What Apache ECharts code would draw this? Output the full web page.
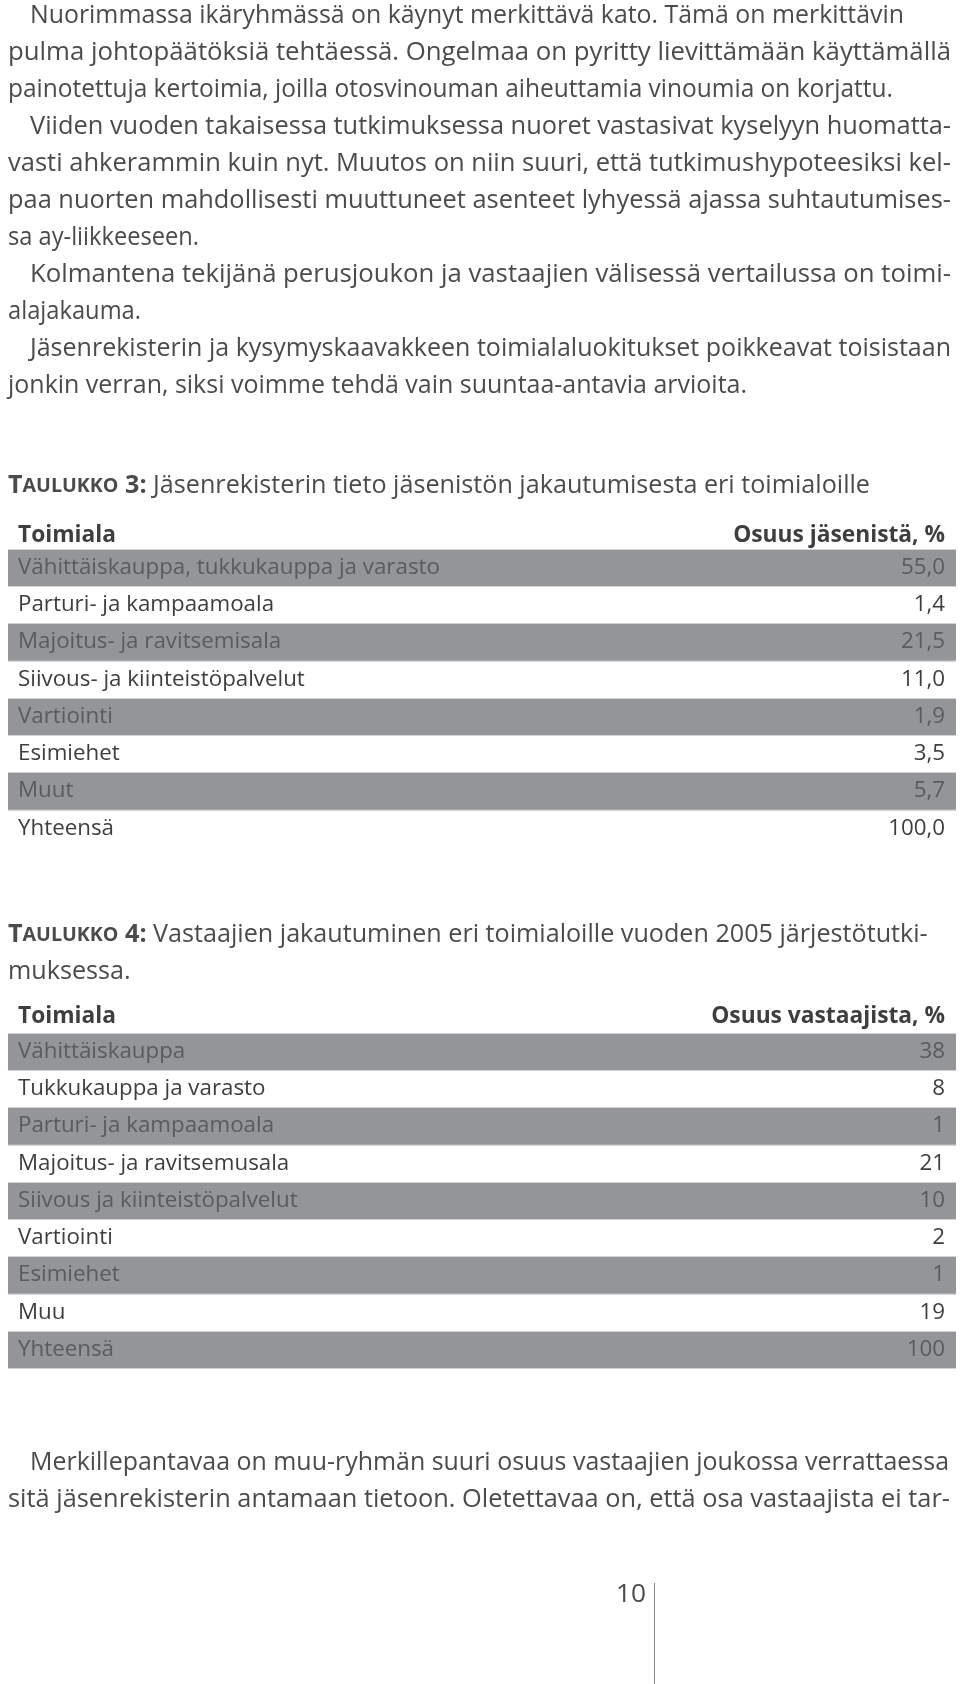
<!DOCTYPE html>
<html>
<head>
<meta charset="utf-8">
<script src="https://cdn.jsdelivr.net/npm/echarts@6/dist/echarts.min.js"></script>
<style>
html,body{margin:0;padding:0;background:#fff;}
#main{width:960px;height:1684px;}
</style>
</head>
<body>
<div id="main"></div>
<script>
// ---- Data ----
const introLines = [
  "Nuorimmassa ikäryhmässä on käynyt merkittävä kato. Tämä on merkittävin",
  "pulma johtopäätöksiä tehtäessä. Ongelmaa on pyritty lievittämään käyttämällä",
  "painotettuja kertoimia, joilla otosvinouman aiheuttamia vinoumia on korjattu.",
  "Viiden vuoden takaisessa tutkimuksessa nuoret vastasivat kyselyyn huomatta-",
  "vasti ahkerammin kuin nyt. Muutos on niin suuri, että tutkimushypoteesiksi kel-",
  "paa nuorten mahdollisesti muuttuneet asenteet lyhyessä ajassa suhtautumises-",
  "sa ay-liikkeeseen.",
  "Kolmantena tekijänä perusjoukon ja vastaajien välisessä vertailussa on toimi-",
  "alajakauma.",
  "Jäsenrekisterin ja kysymyskaavakkeen toimialaluokitukset poikkeavat toisistaan",
  "jonkin verran, siksi voimme tehdä vain suuntaa-antavia arvioita."
];
const introIndent = [1,0,0,1,0,0,0,1,0,1,0];
// right edge of each printed line (px), as set on the page
const introRight = [904, 951, 893, 951, 951, 951, 199, 951, 141, 951, 747];

const t3Label = "TAULUKKO 3:";
const t3Title = "Jäsenrekisterin tieto jäsenistön jakautumisesta eri toimialoille";
const t3Headers = ["Toimiala", "Osuus jäsenistä, %"];
const t3Names = ["Vähittäiskauppa, tukkukauppa ja varasto", "Parturi- ja kampaamoala", "Majoitus- ja ravitsemisala", "Siivous- ja kiinteistöpalvelut", "Vartiointi", "Esimiehet", "Muut", "Yhteensä"];
const t3Values = [55.0, 1.4, 21.5, 11.0, 1.9, 3.5, 5.7, 100.0];

const t4Label = "TAULUKKO 4:";
const t4TitleLines = ["Vastaajien jakutuminen", "muksessa."];
t4TitleLines[0] = "Vastaajien jakautuminen eri toimialoille vuoden 2005 järjestötutki-";
const t4Headers = ["Toimiala", "Osuus vastaajista, %"];
const t4Names = ["Vähittäiskauppa", "Tukkukauppa ja varasto", "Parturi- ja kampaamoala", "Majoitus- ja ravitsemusala", "Siivous ja kiinteistöpalvelut", "Vartiointi", "Esimiehet", "Muu", "Yhteensä"];
const t4Values = [38, 8, 1, 21, 10, 2, 1, 19, 100];

const outroLines = [
  "Merkillepantavaa on muu-ryhmän suuri osuus vastaajien joukossa verrattaessa",
  "sitä jäsenrekisterin antamaan tietoon. Oletettavaa on, että osa vastaajista ei tar-"
];
const outroIndent = [1,0];
const outroRight = [949, 950];
const pageNumber = "10";

// ---- Styling / layout ----
const FAMILY = '"Open Sans", "Noto Sans", sans-serif';
const TEXT = '#4b4b4d';
const BAND = '#939598';
const BAND_TEXT = '#5a5b5e';
const ROW_TEXT = '#3e3e40';

const cv = document.createElement('canvas').getContext('2d');
function measure(text, weight, size) {
  cv.font = weight + ' ' + size + 'px ' + FAMILY;
  return cv.measureText(text).width;
}
function fit(text, weight, target) {
  return 100 * target / measure(text, weight, 100);
}
const bodySize = fit(introLines[1], 'normal', 943) * 1.02;
const tableSize = fit(t3Names[0], 'normal', 422);
const headSize = fit(t3Headers[1], 'bold', 212);
const titleSize = fit(t3Title, 'normal', 717);

const g = [];
function addJustified(text, x, y, size, right) {
  const w = measure(text, 'normal', size);
  const sx = (right - x) / w;
  g.push({
    type: 'text', x: x, y: y, scaleX: sx, silent: true,
    style: { text: text, fontSize: size, fontFamily: FAMILY, fill: TEXT, verticalAlign: 'middle', align: 'left' }
  });
}
introLines.forEach((t, i) => addJustified(t, introIndent[i] ? 30 : 8, 16 + i * 37.0, bodySize, introRight[i]));
outroLines.forEach((t, i) => addJustified(t, outroIndent[i] ? 30 : 8, 1463 + i * 37.0, bodySize, outroRight[i]));

function titleRich(label, text) {
  const m = label.match(/^(\S)(\S+)\s(.*)$/);
  return {
    text: '{a|' + m[1] + '}{b|' + m[2] + '}{a| ' + m[3] + '}{c| ' + text + '}',
    rich: {
      a: { fontSize: titleSize, fontWeight: 'bold', fontFamily: FAMILY, fill: TEXT },
      b: { fontSize: titleSize * 0.78, fontWeight: 'bold', fontFamily: FAMILY, fill: TEXT },
      c: { fontSize: titleSize, fontFamily: FAMILY, fill: TEXT }
    }
  };
}
g.push({ type: 'text', x: 8, y: 486, silent: true,
  style: Object.assign(titleRich(t3Label, t3Title), { verticalAlign: 'middle', align: 'left' }) });
g.push({ type: 'text', x: 8, y: 935, silent: true,
  style: Object.assign(titleRich(t4Label, t4TitleLines[0]), { verticalAlign: 'middle', align: 'left' }) });
g.push({ type: 'text', x: 8, y: 972, silent: true,
  style: { text: t4TitleLines[1], fontSize: titleSize, fontFamily: FAMILY, fill: TEXT, verticalAlign: 'middle', align: 'left' } });

function header(h, y) {
  g.push({ type: 'text', x: 18, y: y, silent: true, style: { text: h[0], fontSize: headSize, fontWeight: 'bold', fontFamily: FAMILY, fill: '#3e3e40', verticalAlign: 'middle', align: 'left' } });
  g.push({ type: 'text', x: 945, y: y, silent: true, style: { text: h[1], fontSize: headSize, fontWeight: 'bold', fontFamily: FAMILY, fill: '#3e3e40', verticalAlign: 'middle', align: 'right' } });
}
header(t3Headers, 536);
header(t4Headers, 1017);

g.push({ type: 'text', x: 646, y: 1595, silent: true, style: { text: pageNumber, fontSize: bodySize, fontFamily: FAMILY, fill: TEXT, verticalAlign: 'middle', align: 'right' } });
g.push({ type: 'line', silent: true, shape: { x1: 654.5, y1: 1583, x2: 654.5, y2: 1684 }, style: { stroke: '#8a8a8c', lineWidth: 1 } });

// ---- Tables as category axes ----
const fmt3 = v => v.toFixed(1).replace('.', ',');
const fmt4 = v => String(v);

function bandColor(isBand) { return isBand ? BAND_TEXT : ROW_TEXT; }

function tableAxes(gridIndex, names, values, fmt) {
  const common = {
    type: 'category', gridIndex: gridIndex, inverse: true,
    axisLine: { show: false }, axisTick: { show: false }
  };
  // edge lines only where a grey band touches
  const lineColors = [];
  for (let i = 0; i <= names.length; i++) {
    const above = i - 1, below = i;
    const grey = (above >= 0 && above % 2 === 0) || (below < names.length && below % 2 === 0);
    lineColors.push(grey ? '#d2d3d5' : 'rgba(255,255,255,0)');
  }
  return [
    Object.assign({}, common, {
      position: 'left', data: names,
      splitArea: { show: true, areaStyle: { color: [BAND, 'rgba(255,255,255,0)'] } },
      splitLine: { show: true, lineStyle: { color: lineColors, width: 1 } },
      axisLabel: { inside: true, margin: 10, fontSize: tableSize, fontFamily: FAMILY,
        color: (v, i) => bandColor(i % 2 === 0) }
    }),
    Object.assign({}, common, {
      position: 'right', data: values.map(fmt),
      axisLabel: { inside: true, margin: 11, fontSize: tableSize, fontFamily: FAMILY,
        color: (v, i) => bandColor(i % 2 === 0) }
    })
  ];
}

const rowH = 37.25;
const option = {
  animation: false,
  backgroundColor: '#ffffff',
  grid: [
    { left: 8, right: 4, top: 549, height: rowH * t3Names.length },
    { left: 8, right: 4, top: 1033, height: rowH * t4Names.length }
  ],
  xAxis: [
    { type: 'value', gridIndex: 0, min: 0, max: 100, show: false },
    { type: 'value', gridIndex: 1, min: 0, max: 100, show: false }
  ],
  yAxis: [].concat(tableAxes(0, t3Names, t3Values, fmt3), tableAxes(1, t4Names, t4Values, fmt4)),
  series: [
    { type: 'scatter', xAxisIndex: 0, yAxisIndex: 0, symbolSize: 0, silent: true,
      data: t3Values.map((v, i) => [v, t3Names[i]]) },
    { type: 'scatter', xAxisIndex: 1, yAxisIndex: 2, symbolSize: 0, silent: true,
      data: t4Values.map((v, i) => [v, t4Names[i]]) }
  ],
  graphic: g
};

const chart = echarts.init(document.getElementById('main'), null, { renderer: 'canvas' });
chart.setOption(option);
</script>
</body>
</html>
